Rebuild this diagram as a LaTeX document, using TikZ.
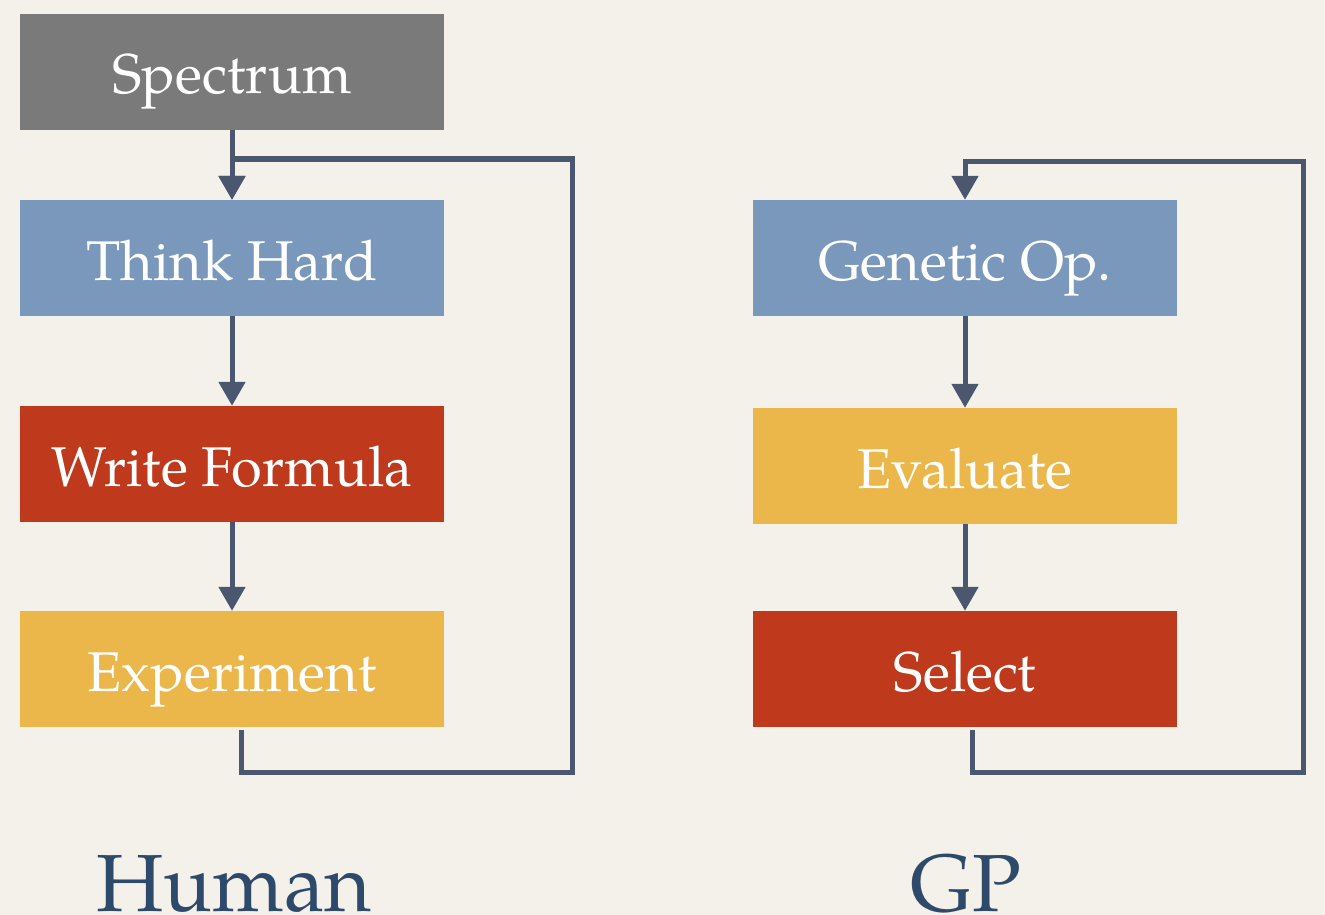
\documentclass[tikz,border=0pt]{standalone}
\usepackage{fontspec}
\setmainfont{TeX Gyre Pagella}
\usetikzlibrary{arrows.meta}
\definecolor{bgpaper}{HTML}{F4F1EA}
\definecolor{boxgray}{HTML}{7A7A7A}
\definecolor{boxblue}{HTML}{7A97BC}
\definecolor{boxred}{HTML}{BF391D}
\definecolor{boxyellow}{HTML}{EBB74A}
\definecolor{flowline}{HTML}{4A576E}
\definecolor{titleblue}{HTML}{2E4A6B}
\tikzset{
  stepbox/.style={rectangle, inner sep=0pt, minimum width=424pt, minimum height=116pt,
    text=white, font=\fontsize{56}{60}\selectfont, text height=44pt, text depth=0pt},
  flow/.style={draw=flowline, line width=5pt},
  tip/.style={-{Triangle[width=26pt,length=24pt]}},
  colhead/.style={text=titleblue, font=\fontsize{81}{90}\selectfont, anchor=base, inner sep=0pt}
}
\begin{document}
\begin{tikzpicture}[x=1pt,y=-1pt]
  \fill[bgpaper] (0,0) rectangle (1325,915);
  \useasboundingbox (0,0) rectangle (1325,915);

  % Human column
  \node[stepbox, fill=boxgray]   (spec)  at (232,72)  {Spectrum};
  \node[stepbox, fill=boxblue]   (think) at (232,258) {Think Hard};
  \node[stepbox, fill=boxred]    (write) at (232,464) {Write Formula};
  \node[stepbox, fill=boxyellow] (exper) at (232,669) {Experiment};

  % GP column
  \node[stepbox, fill=boxblue]   (gen)   at (965,258) {Genetic Op.};
  \node[stepbox, fill=boxyellow] (eval)  at (965,466) {Evaluate};
  \node[stepbox, fill=boxred]    (sel)   at (965,669) {Select};

  % loop corners
  \coordinate (hbl) at (241,772);
  \coordinate (hbr) at (572,772);
  \coordinate (htr) at (572,159);
  \coordinate (gbl) at (972,772);
  \coordinate (gbr) at (1303,772);
  \coordinate (gtr) at (1303,161);

  % Human arrows
  \draw[flow, tip] (spec.south) -- (think.north);
  \draw[flow, tip] (think.south) -- (write.north);
  \draw[flow, tip] (write.south) -- (exper.north);
  \draw[flow, tip] ([xshift=9pt,yshift=-3pt]exper.south) -- (hbl) -- (hbr) -- (htr) -| (think.north);

  % GP arrows
  \draw[flow, tip] (gen.south) -- (eval.north);
  \draw[flow, tip] (eval.south) -- (sel.north);
  \draw[flow, tip] ([xshift=7pt,yshift=-3pt]sel.south) -- (gbl) -- (gbr) -- (gtr) -| (gen.north);

  % column titles
  \node[colhead] (human) at (234,911) {Human};
  \node[colhead] (gp)    at (966,911) {GP};
\end{tikzpicture}
\end{document}
